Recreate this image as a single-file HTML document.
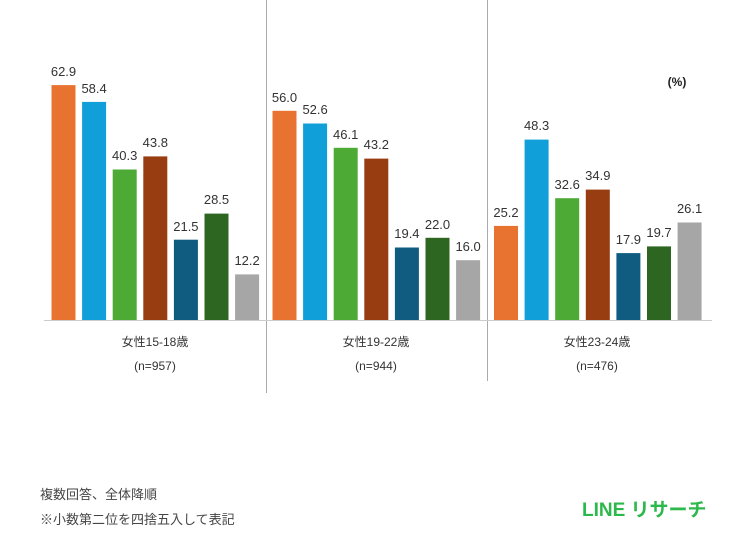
<!DOCTYPE html>
<html><head><meta charset="utf-8"><style>
body{margin:0;background:#fff}
svg text{font-family:"Liberation Sans","Noto Sans CJK JP",sans-serif}
</style></head><body>
<svg width="750" height="548" viewBox="0 0 750 548" xmlns="http://www.w3.org/2000/svg">
<rect width="750" height="548" fill="#fff"/>
<line x1="266.5" y1="0" x2="266.5" y2="393" stroke="#aaa" stroke-width="1"/>
<line x1="487.5" y1="0" x2="487.5" y2="381" stroke="#aaa" stroke-width="1"/>
<g>
<rect x="51.5" y="85.1" width="24" height="234.9" fill="#E87330"/>
<rect x="82.1" y="101.9" width="24" height="218.1" fill="#109FD8"/>
<rect x="112.7" y="169.5" width="24" height="150.5" fill="#4DAA35"/>
<rect x="143.3" y="156.4" width="24" height="163.6" fill="#983D12"/>
<rect x="173.9" y="239.7" width="24" height="80.3" fill="#0F5C80"/>
<rect x="204.5" y="213.6" width="24" height="106.4" fill="#2D6620"/>
<rect x="235.1" y="274.4" width="24" height="45.6" fill="#A6A6A6"/>
<rect x="272.5" y="110.8" width="24" height="209.2" fill="#E87330"/>
<rect x="303.1" y="123.5" width="24" height="196.5" fill="#109FD8"/>
<rect x="333.7" y="147.8" width="24" height="172.2" fill="#4DAA35"/>
<rect x="364.3" y="158.6" width="24" height="161.4" fill="#983D12"/>
<rect x="394.9" y="247.5" width="24" height="72.5" fill="#0F5C80"/>
<rect x="425.5" y="237.8" width="24" height="82.2" fill="#2D6620"/>
<rect x="456.1" y="260.2" width="24" height="59.8" fill="#A6A6A6"/>
<rect x="494" y="225.9" width="24" height="94.1" fill="#E87330"/>
<rect x="524.6" y="139.6" width="24" height="180.4" fill="#109FD8"/>
<rect x="555.2" y="198.2" width="24" height="121.8" fill="#4DAA35"/>
<rect x="585.8" y="189.6" width="24" height="130.4" fill="#983D12"/>
<rect x="616.4" y="253.1" width="24" height="66.9" fill="#0F5C80"/>
<rect x="647" y="246.4" width="24" height="73.6" fill="#2D6620"/>
<rect x="677.6" y="222.5" width="24" height="97.5" fill="#A6A6A6"/>
</g>
<g font-size="13" fill="#333" text-anchor="middle">
<text x="63.5" y="76">62.9</text>
<text x="94.1" y="93">58.4</text>
<text x="124.7" y="160">40.3</text>
<text x="155.3" y="147">43.8</text>
<text x="185.9" y="231">21.5</text>
<text x="216.5" y="204">28.5</text>
<text x="247.1" y="265">12.2</text>
<text x="284.5" y="102">56.0</text>
<text x="315.1" y="114">52.6</text>
<text x="345.7" y="139">46.1</text>
<text x="376.3" y="149">43.2</text>
<text x="406.9" y="238">19.4</text>
<text x="437.5" y="229">22.0</text>
<text x="468.1" y="251">16.0</text>
<text x="506" y="217">25.2</text>
<text x="536.6" y="130">48.3</text>
<text x="567.2" y="189">32.6</text>
<text x="597.8" y="180">34.9</text>
<text x="628.4" y="244">17.9</text>
<text x="659" y="237">19.7</text>
<text x="689.6" y="213">26.1</text>
</g>
<line x1="44" y1="320.5" x2="712" y2="320.5" stroke="#ccc" stroke-width="1"/>
<g font-size="12" fill="#333" text-anchor="middle">
<text x="155" y="346">女性15-18歳</text><text x="155" y="370">(n=957)</text>
<text x="376" y="346">女性19-22歳</text><text x="376" y="370">(n=944)</text>
<text x="597" y="346">女性23-24歳</text><text x="597" y="370">(n=476)</text>
</g>
<text x="677" y="86" font-size="12" font-weight="bold" fill="#222" text-anchor="middle">(%)</text>
<text x="40" y="499" font-size="13" fill="#444">複数回答、全体降順</text>
<text x="40" y="524" font-size="13" fill="#444">※小数第二位を四捨五入して表記</text>
<text x="582" y="516" font-size="19" font-weight="bold" fill="#2db84b">LINE リサーチ</text>
</svg>
</body></html>
